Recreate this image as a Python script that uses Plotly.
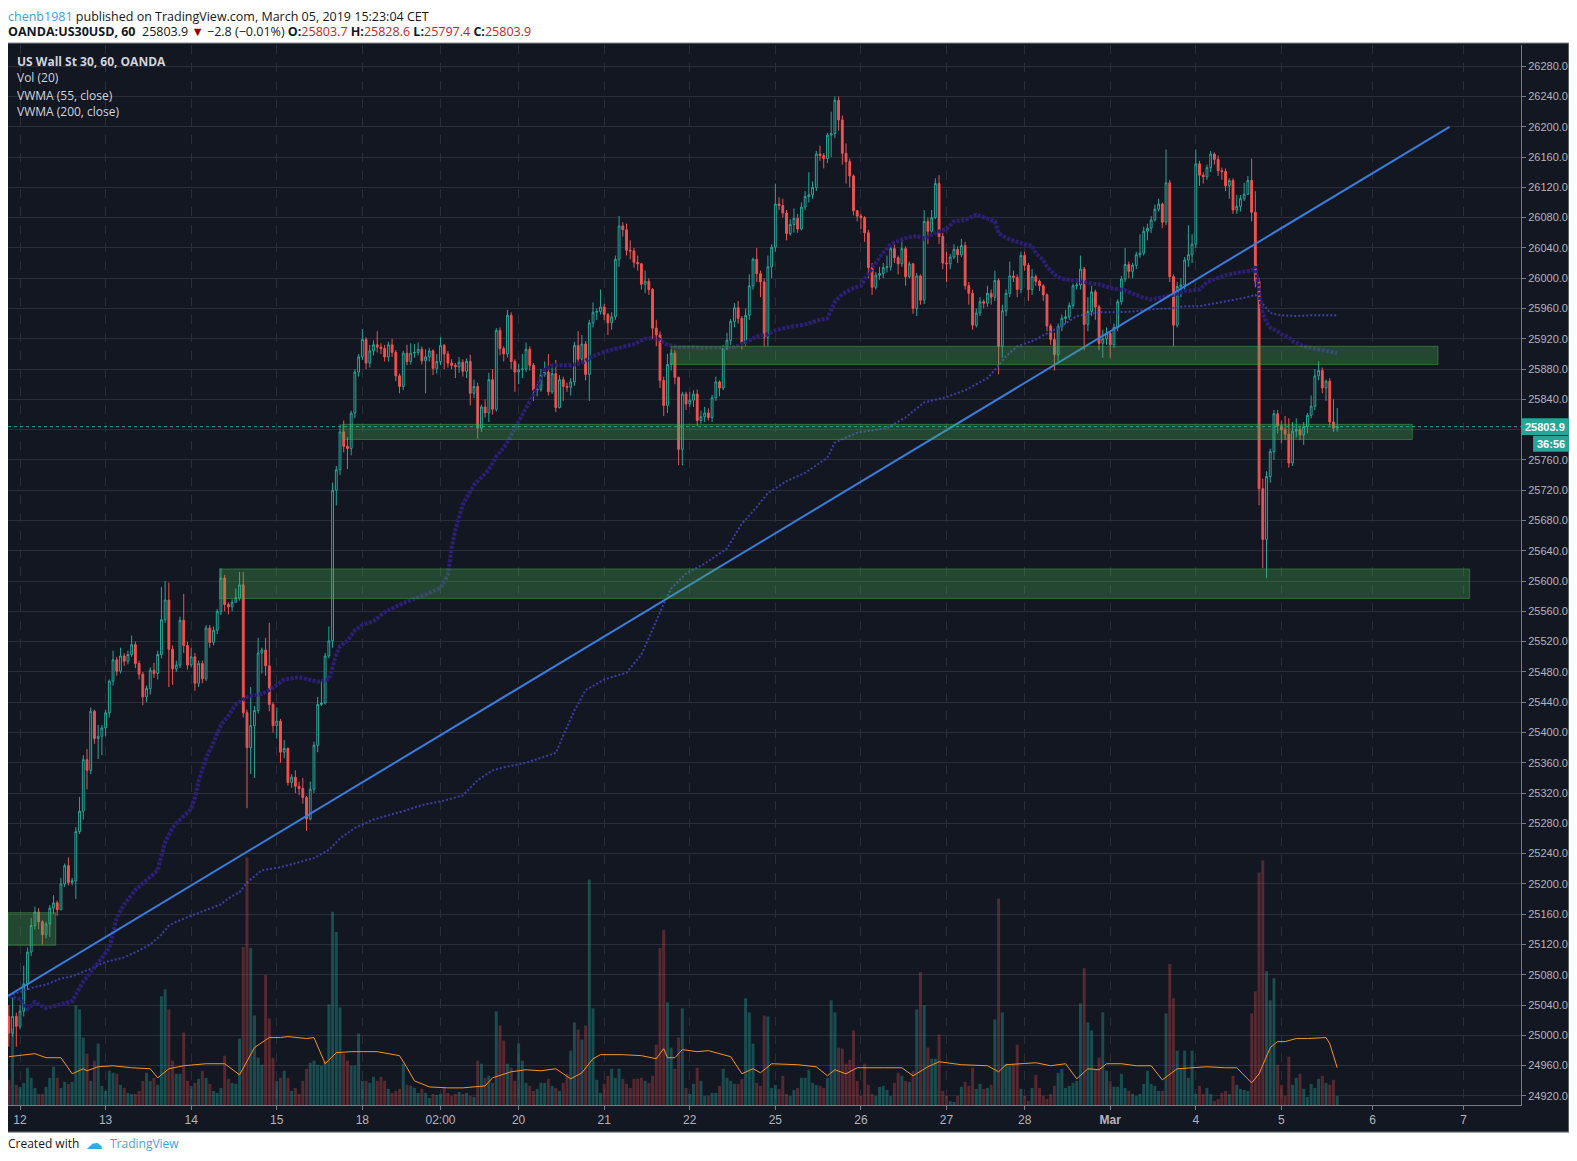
import plotly.graph_objects as go

#
# Hourly bars, x = bar number (closed hours / weekends removed)
first_open = 25025
closes = [
    25003, 25025, 25012, 25032, 25068, 25110, 25145, 25163, 25150, 25133,
    25147, 25168, 25175, 25166, 25200, 25224, 25202, 25204, 25269, 25296,
    25364, 25350, 25428, 25392, 25395, 25406, 25426, 25468, 25496, 25481,
    25501, 25494, 25503, 25516, 25491, 25477, 25447, 25458, 25482, 25478,
    25503, 25549, 25575, 25510, 25484, 25489, 25548, 25515, 25489, 25500,
    25465, 25491, 25471, 25538, 25519, 25535, 25560, 25604, 25569, 25566,
    25572, 25578, 25595, 25426, 25380, 25409, 25429, 25505, 25509, 25488,
    25437, 25409, 25415, 25374, 25379, 25334, 25341, 25329, 25326, 25314,
    25286, 25325, 25383, 25437, 25439, 25501, 25521, 25720, 25747, 25797,
    25778, 25775, 25822, 25876, 25896, 25919, 25888, 25904, 25912, 25909,
    25907, 25896, 25912, 25902, 25871, 25857, 25901, 25890, 25901, 25902,
    25906, 25891, 25896, 25904, 25881, 25890, 25911, 25900, 25888, 25885,
    25883, 25889, 25877, 25890, 25848, 25857, 25802, 25830, 25822, 25866,
    25827, 25931, 25907, 25900, 25951, 25890, 25876, 25879, 25880, 25906,
    25885, 25852, 25853, 25873, 25876, 25850, 25874, 25829, 25866, 25857,
    25856, 25863, 25911, 25893, 25913, 25873, 25941, 25955, 25956, 25962,
    25952, 25941, 25949, 26025, 26069, 26064, 26037, 26036, 26021, 26019,
    25992, 25996, 25985, 25934, 25925, 25865, 25832, 25886, 25901, 25869,
    25774, 25847, 25834, 25839, 25847, 25812, 25817, 25822, 25816, 25842,
    25863, 25855, 25907, 25918, 25943, 25961, 25947, 25914, 25951, 25990,
    26025, 26006, 25995, 25922, 26015, 26041, 26098, 26096, 26086, 26059,
    26071, 26079, 26065, 26094, 26108, 26110, 26120, 26164, 26162, 26158,
    26189, 26191, 26235, 26209, 26165, 26154, 26135, 26089, 26082, 26080,
    26060, 26014, 25988, 26004, 26006, 26014, 26015, 26039, 26027, 26019,
    26039, 26002, 26019, 25960, 26003, 25971, 26075, 26062, 26080, 26125,
    26055, 26020, 26019, 26028, 26038, 26031, 26043, 25990, 25980, 25938,
    25954, 25969, 25967, 25980, 25975, 25997, 25910, 25957, 25980, 26003,
    26001, 25985, 26030, 26017, 25985, 26002, 25996, 25990, 25978, 25937,
    25919, 25899, 25936, 25947, 25949, 25964, 25990, 25991, 26012, 25939,
    25956, 25982, 25962, 25914, 25920, 25927, 25912, 25935, 25969, 25999,
    26018, 26009, 26017, 26031, 26033, 26062, 26066, 26077, 26091, 26098,
    26074, 26126, 26002, 25938, 25989, 25991, 26024, 26031, 26045, 26151,
    26136, 26134, 26146, 26164, 26157, 26142, 26141, 26122, 26129, 26090,
    26095, 26105, 26111, 26129, 26087, 25996, 25722, 25655, 25738, 25771,
    25821, 25805, 25800, 25794, 25756, 25798, 25800, 25793, 25804, 25819,
    25831, 25871, 25878, 25855, 25864, 25810, 25802, 25803.9]
highs = [
    25040, 25050, 25030, 25040, 25092, 25116, 25155, 25170, 25168, 25152,
    25150, 25172, 25185, 25178, 25208, 25227, 25235, 25208, 25275, 25315,
    25370, 25378, 25433, 25430, 25410, 25410, 25430, 25470, 25508, 25500,
    25512, 25505, 25508, 25528, 25520, 25495, 25480, 25462, 25486, 25492,
    25508, 25592, 25600, 25598, 25515, 25495, 25553, 25583, 25520, 25512,
    25505, 25495, 25495, 25542, 25542, 25540, 25563, 25617, 25608, 25572,
    25576, 25590, 25612, 25612, 25430, 25460, 25435, 25525, 25512, 25525,
    25545, 25440, 25433, 25418, 25390, 25380, 25345, 25350, 25335, 25340,
    25316, 25335, 25388, 25447, 25468, 25505, 25540, 25730, 25752, 25807,
    25812, 25790, 25825, 25880, 25900, 25933, 25922, 25912, 25918, 25930,
    25914, 25912, 25916, 25920, 25905, 25874, 25904, 25912, 25914, 25913,
    25915, 25910, 25906, 25908, 25906, 25900, 25922, 25913, 25904, 25893,
    25888, 25896, 25893, 25894, 25899, 25866, 25862, 25833, 25840, 25875,
    25880, 25934, 25935, 25910, 25958, 25955, 25893, 25887, 25900, 25915,
    25910, 25888, 25860, 25880, 25890, 25900, 25882, 25892, 25872, 25870,
    25862, 25868, 25916, 25930, 25925, 25917, 25945, 25968, 25960, 25985,
    25966, 25954, 25955, 26030, 26082, 26074, 26072, 26050, 26040, 26030,
    26020, 26010, 26000, 25987, 25945, 25930, 25870, 25900, 25906, 25905,
    25870, 25850, 25850, 25850, 25852, 25853, 25825, 25830, 25828, 25846,
    25870, 25865, 25912, 25928, 25946, 25967, 25970, 25950, 25960, 26005,
    26027, 26040, 26010, 26000, 26030, 26045, 26125, 26107, 26105, 26090,
    26078, 26092, 26085, 26100, 26115, 26140, 26128, 26168, 26175, 26165,
    26192, 26220, 26240, 26240, 26215, 26178, 26158, 26137, 26090, 26085,
    26082, 26064, 26020, 26008, 26015, 26020, 26030, 26043, 26048, 26030,
    26052, 26042, 26022, 26020, 26007, 26005, 26090, 26080, 26090, 26132,
    26136, 26060, 26035, 26032, 26045, 26042, 26052, 26048, 25995, 25985,
    25960, 25975, 25972, 25990, 25985, 26010, 26000, 25965, 25985, 26022,
    26010, 26005, 26035, 26035, 26020, 26012, 26005, 25998, 25992, 25980,
    25940, 25928, 25940, 25952, 25958, 25968, 25993, 26000, 26030, 26015,
    25975, 25990, 25985, 25965, 25932, 25935, 25930, 25940, 25972, 26003,
    26040, 26022, 26020, 26035, 26058, 26068, 26072, 26082, 26097, 26105,
    26100, 26170, 26130, 26005, 25995, 26000, 26028, 26070, 26058, 26170,
    26155, 26140, 26150, 26168, 26166, 26162, 26146, 26145, 26132, 26132,
    26110, 26110, 26126, 26135, 26158, 26115, 26000, 25735, 25745, 25775,
    25826, 25826, 25812, 25818, 25815, 25810, 25815, 25805, 25810, 25822,
    25845, 25880, 25890, 25882, 25866, 25868, 25840, 25828.6]
lows = [
    24985, 24998, 24985, 25008, 25025, 25060, 25105, 25140, 25140, 25120,
    25128, 25130, 25160, 25158, 25165, 25196, 25198, 25198, 25180, 25266,
    25285, 25325, 25345, 25385, 25365, 25370, 25395, 25420, 25462, 25475,
    25478, 25488, 25490, 25500, 25485, 25470, 25436, 25440, 25450, 25472,
    25470, 25498, 25545, 25460, 25463, 25480, 25485, 25505, 25483, 25486,
    25455, 25460, 25465, 25468, 25512, 25515, 25530, 25555, 25560, 25556,
    25560, 25572, 25574, 25420, 25300, 25345, 25340, 25425, 25478, 25475,
    25428, 25400, 25392, 25360, 25366, 25330, 25327, 25320, 25317, 25306,
    25270, 25284, 25320, 25374, 25435, 25437, 25498, 25512, 25700, 25740,
    25770, 25748, 25766, 25815, 25870, 25892, 25880, 25882, 25898, 25902,
    25900, 25890, 25890, 25896, 25864, 25848, 25852, 25885, 25886, 25895,
    25898, 25886, 25848, 25890, 25872, 25874, 25885, 25880, 25882, 25880,
    25868, 25875, 25870, 25868, 25832, 25842, 25788, 25797, 25816, 25810,
    25820, 25824, 25898, 25890, 25895, 25880, 25850, 25860, 25868, 25876,
    25878, 25838, 25844, 25850, 25870, 25845, 25847, 25823, 25828, 25838,
    25850, 25845, 25858, 25885, 25888, 25865, 25838, 25935, 25945, 25952,
    25945, 25925, 25932, 25945, 26015, 26055, 26030, 26025, 26014, 26010,
    25985, 25980, 25978, 25920, 25910, 25855, 25818, 25822, 25878, 25860,
    25753, 25753, 25826, 25830, 25830, 25805, 25808, 25810, 25812, 25810,
    25838, 25844, 25852, 25905, 25912, 25935, 25940, 25906, 25910, 25945,
    25985, 25995, 25975, 25910, 25910, 26000, 26035, 26090, 26080, 26050,
    26056, 26060, 26060, 26063, 26090, 26100, 26105, 26115, 26155, 26145,
    26152, 26160, 26185, 26195, 26150, 26125, 26120, 26083, 26075, 26065,
    26048, 26000, 25978, 25985, 25998, 26000, 26008, 26010, 26020, 26005,
    26015, 25990, 26000, 25953, 25950, 25965, 25966, 26045, 26060, 26078,
    26045, 26012, 25995, 26012, 26025, 26020, 26028, 25985, 25965, 25932,
    25935, 25950, 25960, 25962, 25965, 25970, 25873, 25895, 25950, 25975,
    25995, 25975, 25980, 26010, 25970, 25978, 25990, 25983, 25970, 25930,
    25912, 25878, 25890, 25930, 25940, 25945, 25960, 25985, 25985, 25905,
    25930, 25950, 25945, 25905, 25895, 25912, 25895, 25908, 25930, 25965,
    25995, 26000, 26000, 26012, 26027, 26030, 26050, 26060, 26075, 26088,
    26066, 26070, 25995, 25910, 25935, 25975, 25985, 26015, 26020, 26040,
    26122, 26125, 26130, 26140, 26150, 26135, 26130, 26115, 26105, 26085,
    26085, 26088, 26102, 26110, 26075, 25988, 25700, 25617, 25604, 25730,
    25760, 25795, 25782, 25786, 25750, 25752, 25790, 25786, 25780, 25795,
    25815, 25826, 25865, 25848, 25838, 25805, 25797, 25797.4]
#
# Volume (hundreds) and its 20-bar average
volumes = [
    25, 76, 20, 18, 22, 37, 27, 17, 11, 11,
    18, 27, 38, 27, 17, 23, 21, 23, 99, 95,
    67, 51, 24, 44, 61, 19, 14, 34, 32, 31,
    20, 17, 12, 11, 11, 14, 24, 32, 24, 27,
    20, 108, 115, 95, 44, 31, 31, 72, 24, 19,
    22, 26, 34, 27, 21, 14, 12, 17, 49, 26,
    22, 21, 66, 157, 246, 156, 89, 47, 40, 129,
    86, 47, 24, 27, 34, 27, 14, 17, 11, 24,
    36, 42, 44, 40, 39, 44, 100, 192, 172, 97,
    51, 44, 39, 39, 71, 24, 24, 22, 28, 24,
    28, 24, 16, 12, 14, 16, 41, 20, 19, 17,
    12, 16, 12, 7, 11, 10, 11, 17, 12, 9,
    11, 13, 11, 12, 9, 8, 44, 41, 27, 29,
    22, 93, 79, 64, 41, 37, 24, 61, 44, 22,
    19, 14, 16, 22, 22, 26, 19, 17, 14, 22,
    31, 54, 82, 75, 65, 79, 224, 96, 25, 12,
    21, 29, 36, 27, 36, 26, 21, 17, 26, 26,
    27, 24, 22, 29, 60, 156, 174, 102, 57, 36,
    67, 96, 17, 11, 21, 37, 24, 9, 9, 12,
    12, 19, 36, 27, 24, 21, 21, 26, 106, 92,
    61, 22, 19, 89, 88, 17, 20, 16, 29, 11,
    9, 15, 17, 27, 27, 35, 22, 20, 19, 17,
    27, 104, 92, 57, 56, 41, 45, 74, 24, 9,
    41, 20, 11, 9, 18, 19, 15, 9, 22, 32,
    29, 24, 23, 34, 95, 132, 99, 57, 46, 46,
    70, 14, 9, 4, 3, 9, 18, 23, 19, 37,
    16, 21, 16, 17, 20, 85, 205, 92, 41, 39,
    41, 60, 16, 9, 4, 17, 30, 17, 9, 6,
    11, 19, 32, 36, 17, 19, 22, 24, 101, 136,
    82, 74, 35, 47, 92, 34, 24, 18, 18, 31,
    17, 14, 11, 9, 11, 21, 34, 21, 19, 14,
    14, 91, 140, 106, 54, 36, 54, 27, 54, 11,
    19, 11, 17, 11, 4, 6, 12, 14, 11, 29,
    20, 16, 15, 14, 91, 113, 231, 243, 133, 104,
    126, 40, 20, 9, 48, 20, 27, 31, 16, 8,
    21, 17, 26, 29, 22, 20, 25, 9]
vol_ma_x = [
    0, 7, 10, 14, 17, 20, 21, 24, 28, 33, 38, 40, 43, 47, 53, 58, 62, 66, 70, 73,
    75, 80, 82, 85, 88, 92, 99, 105, 107, 109, 113, 118, 122, 128, 130, 135, 139, 143, 147, 151,
    154, 157, 159, 165, 170, 174, 176, 177, 179, 181, 185, 188, 192, 194, 197, 200, 202, 205, 212, 217,
    220, 222, 225, 228, 235, 240, 243, 247, 250, 256, 263, 266, 268, 273, 276, 280, 284, 287, 290, 293,
    295, 299, 303, 307, 310, 314, 317, 322, 327, 330, 334, 336, 339, 341, 343, 346, 349, 354, 355, 357]
vol_ma = [
    48, 51, 47, 47, 31, 36, 34, 38, 39, 37, 36, 27, 36, 39, 41, 41, 30, 57, 67, 67,
    68, 66, 67, 41, 52, 53, 53, 49, 37, 24, 18, 17, 17, 19, 27, 33, 35, 34, 36, 26,
    32, 46, 50, 50, 49, 46, 56, 47, 47, 55, 53, 54, 50, 48, 31, 36, 32, 41, 40, 38,
    29, 35, 31, 37, 37, 37, 29, 38, 43, 40, 39, 33, 40, 41, 42, 39, 41, 26, 36, 35,
    41, 41, 39, 39, 25, 36, 37, 38, 37, 37, 22, 31, 57, 63, 63, 66, 66, 67, 61, 37]
#
# VWMA studies, read every few bars
vwma55_x = [
    0, 3, 5, 7, 10, 14, 17, 18, 20, 22, 24, 27, 29, 31, 34, 37, 40, 41, 42, 44,
    46, 49, 50, 51, 53, 55, 57, 59, 61, 64, 68, 71, 74, 78, 81, 83, 86, 87, 88, 89,
    91, 93, 95, 98, 101, 106, 112, 116, 118, 119, 120, 122, 125, 129, 131, 133, 135, 137, 139, 141,
    142, 144, 146, 149, 151, 154, 157, 160, 164, 168, 171, 174, 177, 180, 184, 187, 191, 195, 198, 201,
    204, 206, 209, 214, 218, 220, 221, 222, 224, 227, 229, 230, 233, 235, 237, 241, 244, 246, 249, 252,
    254, 257, 260, 262, 265, 266, 269, 273, 275, 276, 278, 279, 281, 283, 287, 291, 293, 296, 298, 300,
    302, 305, 307, 309, 313, 316, 320, 322, 324, 327, 331, 334, 335, 337, 338, 339, 341, 342, 344, 345,
    348, 352, 354, 357]
vwma55_y = [
    25052, 25048, 25035, 25044, 25036, 25041, 25045, 25054, 25071, 25083,
    25096, 25115, 25156, 25173, 25192, 25205, 25218, 25237, 25255, 25274,
    25285, 25299, 25314, 25336, 25366, 25387, 25410, 25422, 25437, 25447,
    25451, 25459, 25470, 25473, 25470, 25467, 25470, 25486, 25503, 25514,
    25521, 25535, 25542, 25547, 25559, 25571, 25582, 25591, 25608, 25644,
    25668, 25701, 25727, 25747, 25765, 25776, 25792, 25811, 25829, 25846,
    25858, 25879, 25885, 25885, 25885, 25888, 25897, 25903, 25908, 25913,
    25920, 25921, 25912, 25909, 25909, 25908, 25908, 25909, 25915, 25923,
    25926, 25931, 25935, 25939, 25945, 25947, 25958, 25969, 25979, 25987,
    25990, 25999, 26020, 26034, 26045, 26053, 26056, 26052, 26060, 26065,
    26075, 26077, 26084, 26080, 26075, 26059, 26051, 26045, 26043, 26033,
    26024, 26015, 26005, 25999, 25997, 25993, 25992, 25987, 25985, 25984,
    25980, 25974, 25972, 25974, 25978, 25983, 25985, 25995, 25999, 26004,
    26008, 26010, 26015, 25953, 25942, 25935, 25930, 25926, 25922, 25917,
    25910, 25906, 25905, 25901]
vwma200_x = [
    0, 3, 7, 10, 14, 17, 22, 26, 31, 35, 38, 41, 43, 45, 49, 53, 57, 59, 62, 64,
    68, 73, 78, 82, 86, 89, 93, 98, 103, 106, 111, 117, 122, 126, 130, 133, 139, 144, 147, 149,
    152, 155, 160, 166, 170, 173, 176, 178, 182, 187, 193, 197, 200, 204, 209, 214, 220, 222, 228, 236,
    241, 246, 252, 257, 263, 265, 268, 271, 275, 283, 287, 293, 298, 302, 307, 312, 316, 320, 327, 332,
    335, 338, 339, 342, 346, 350, 357]
vwma200_y = [
    25053, 25057, 25064, 25067, 25075, 25078, 25088, 25097, 25103, 25112,
    25120, 25133, 25145, 25150, 25158, 25165, 25173, 25181, 25189, 25202,
    25218, 25222, 25229, 25234, 25245, 25260, 25274, 25285, 25292, 25296,
    25304, 25310, 25317, 25337, 25350, 25354, 25360, 25368, 25373, 25396,
    25429, 25456, 25470, 25479, 25503, 25536, 25570, 25590, 25610, 25623,
    25643, 25676, 25692, 25716, 25732, 25743, 25763, 25783, 25796, 25802,
    25816, 25836, 25843, 25852, 25868, 25879, 25897, 25910, 25917, 25937,
    25950, 25955, 25955, 25956, 25959, 25960, 25963, 25963, 25969, 25974,
    25978, 25961, 25954, 25951, 25950, 25951, 25951]
#
# Time axis labels (bar number where each session starts)
day_pos = [3, 26, 49, 72, 95, 116, 137, 160, 183, 206, 229, 252, 273, 296, 319, 342, 366.5, 391]
day_text = ['12', '13', '14', '15', '18', '02:00', '20', '21', '22', '25', '26', '27', '28',
            '<b>Mar</b>', '4', '5', '6', '7']
#
# Price scale labels (the 25800 one sits under the last-price tag)
price_ticks = [24920 + 40 * k for k in range(35)]
price_text = ['' if p == 25800 else '%.1f' % p for p in price_ticks]
#
# Drawings: support/resistance boxes and the rising trendline
zone_x0 = [-0.23, 56.6, 89.6, 178.0]
zone_x1 = [12.6, 392.6, 377.2, 384.1]
zone_lo = [25119, 25577, 25787, 25886]
zone_hi = [25162, 25616, 25807, 25910]
trend_x = [-0.23, 387.2]
trend_y = [25052, 26200]
last_price = 25803.9
countdown = '36:56'

BG = '#131722'
GRID = '#2a2e39'
UP = '#26a69a'
DOWN = '#ef5350'
TEXT = '#b2b5be'
RED = '#c41e1e'
EDGE = 1.0317  # right edge of the price scale, in plot-width units

bars = list(range(len(closes)))
opens = [first_open] + closes[:-1]
vol_colors = ['rgba(38,166,154,0.38)' if c >= o else 'rgba(239,83,80,0.3)'
              for o, c in zip(opens, closes)]

fig = go.Figure()
#
# Volume pane lives on its own hidden axis at the bottom
fig.add_trace(go.Bar(x=bars, y=volumes, marker_color=vol_colors, marker_line_width=0,
                     width=0.8, yaxis='y2', hoverinfo='skip'))
fig.add_trace(go.Scatter(x=vol_ma_x, y=vol_ma, mode='lines', yaxis='y2',
                         line=dict(color='#f7931e', width=1)))
#
# Moving averages
fig.add_trace(go.Scatter(x=vwma200_x, y=vwma200_y, mode='lines',
                         line=dict(color='#3b3fa6', width=2, dash='2px,2px')))
fig.add_trace(go.Scatter(x=vwma55_x, y=vwma55_y, mode='lines',
                         line=dict(color='#2e1f76', width=4, dash='3px,1.5px')))
#
# Hollow candles
fig.add_trace(go.Candlestick(
    x=bars, open=opens, high=highs, low=lows, close=closes,
    increasing=dict(line=dict(color=UP, width=1), fillcolor=BG),
    decreasing=dict(line=dict(color=DOWN, width=1), fillcolor=DOWN),
    whiskerwidth=0, hoverinfo='skip'))
fig.add_trace(go.Scatter(x=trend_x, y=trend_y, mode='lines',
                         line=dict(color='#3b7ddd', width=2)))

shapes = [
    # dark chart frame incl. price and time scales
    dict(type='rect', xref='paper', yref='paper', x0=-0.002, x1=EDGE, y0=-0.0256, y1=1.0019,
         fillcolor=BG, line=dict(color='#8c8f99', width=1), layer='below'),
]
for x0, x1, lo, hi in zip(zone_x0, zone_x1, zone_lo, zone_hi):
    shapes.append(dict(type='rect', x0=x0, x1=x1, y0=lo, y1=hi, xref='x', yref='y',
                       fillcolor='rgba(76,175,80,0.32)',
                       line=dict(color='rgba(76,175,80,0.45)', width=1), layer='above'))
shapes.append(dict(type='line', xref='paper', x0=0, x1=1, yref='y', y0=last_price, y1=last_price,
                   line=dict(color=UP, width=1, dash='dot'), layer='above'))
shapes.append(dict(type='rect', xref='paper', x0=1.0, x1=EDGE, yref='y',
                   y0=last_price - 11, y1=last_price + 11, fillcolor=UP, line=dict(width=0)))
shapes.append(dict(type='rect', xref='paper', x0=1.008, x1=EDGE, yref='y',
                   y0=last_price - 33, y1=last_price - 12, fillcolor=UP, line=dict(width=0)))

quote = ("<b>OANDA:US30USD, 60</b>  25803.9 <span style='color:#9b0000'>▼</span> "
         "−2.8 (−0.01%) "
         "<b>O:</b><span style='color:" + RED + "'>25803.7</span> "
         "<b>H:</b><span style='color:" + RED + "'>25828.6</span> "
         "<b>L:</b><span style='color:" + RED + "'>25797.4</span> "
         "<b>C:</b><span style='color:" + RED + "'>25803.9</span>")
annotations = [
    dict(x=-0.0013, y=1.0268, xref='paper', yref='paper', xanchor='left', yanchor='middle',
         showarrow=False, font=dict(family='Open Sans', size=12.5, color='#131722'),
         text="<span style='color:#3aa0d8'>chenb1981</span> published on TradingView.com, "
              "March 05, 2019 15:23:04 CET"),
    dict(x=-0.0013, y=1.0128, xref='paper', yref='paper', xanchor='left', yanchor='middle',
         showarrow=False, font=dict(family='Open Sans', size=12.5, color='#131722'), text=quote),
    dict(x=-0.0013, y=-0.0361, xref='paper', yref='paper', xanchor='left', yanchor='middle',
         showarrow=False, font=dict(family='Open Sans', size=12, color='#131722'),
         text="Created with"),
    dict(x=0.0500, y=-0.0361, xref='paper', yref='paper', xanchor='left', yanchor='middle',
         showarrow=False, font=dict(family='DejaVu Sans', size=17, color='#3aa7e2'),
         text="☁"),
    dict(x=0.0659, y=-0.0361, xref='paper', yref='paper', xanchor='left', yanchor='middle',
         showarrow=False, font=dict(family='Open Sans', size=12, color='#3aa7e2'),
         text="TradingView"),
    dict(x=(1.0 + EDGE) / 2, y=last_price, xref='paper', yref='y', xanchor='center',
         yanchor='middle', showarrow=False,
         font=dict(family='Liberation Sans', size=11, color='white'),
         text='<b>' + str(last_price) + '</b>'),
    dict(x=(1.008 + EDGE) / 2, y=last_price - 22.5, xref='paper', yref='y', xanchor='center',
         yanchor='middle', showarrow=False,
         font=dict(family='Liberation Sans', size=11, color='white'),
         text='<b>' + countdown + '</b>'),
]
legend_lines = ['<b>US Wall St 30, 60, OANDA</b>', 'Vol (20)', 'VWMA (55, close)', 'VWMA (200, close)']
legend_y = [0.9848, 0.9689, 0.9525, 0.9373]
for line, ly in zip(legend_lines, legend_y):
    annotations.append(dict(x=0.0047, y=ly, xref='paper', yref='paper',
                            xanchor='left', yanchor='middle', showarrow=False,
                            font=dict(family='Open Sans', size=12, color='#d1d4dc'), text=line))

#
# page body adds an 8px margin around the figure
fig.update_layout(
    width=1562, height=1146,
    margin=dict(l=0, r=49, t=37, b=49),
    paper_bgcolor='white', plot_bgcolor=BG,
    showlegend=False,
    font=dict(family='Liberation Sans', size=11, color=TEXT),
    xaxis=dict(range=[-0.23, 406.4], tickvals=day_pos, ticktext=day_text, automargin=False,
               showgrid=True, gridcolor=GRID, griddash='dash', zeroline=False,
               showline=True, linecolor='#787b86', ticks='outside', ticklen=4,
               tickcolor='#787b86', tickfont=dict(size=12, color=TEXT),
               rangeslider=dict(visible=False)),
    yaxis=dict(side='right', range=[24908, 26308], tickvals=price_ticks, ticktext=price_text,
               automargin=False, showgrid=True, gridcolor=GRID, zeroline=False, showline=True,
               linecolor='#787b86', ticks='outside', ticklen=4, tickcolor='#787b86',
               tickfont=dict(size=11, color=TEXT)),
    yaxis2=dict(overlaying='y', range=[0, 1053], visible=False),
    shapes=shapes,
    annotations=annotations,
)

fig.write_html("out.html")
